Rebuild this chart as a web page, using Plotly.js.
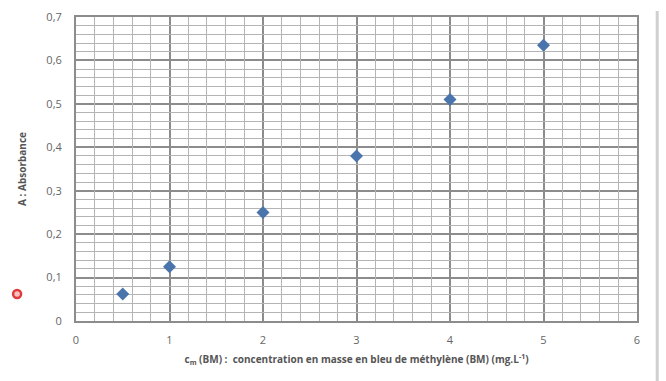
<!DOCTYPE html>
<html>
<head>
<meta charset="utf-8">
<script src="https://cdn.plot.ly/plotly-3.0.1.min.js"></script>
<style>html,body{margin:0;padding:0;background:#fff}#chart{width:666px;height:381px}</style>
</head>
<body>
<div id="chart"></div>
<script>
var concentration = [0.5, 1, 2, 3, 4, 5];
var absorbance = [0.062, 0.125, 0.25, 0.38, 0.51, 0.635];
var xTicks = [0, 1, 2, 3, 4, 5, 6];
var yTicks = [0, 0.1, 0.2, 0.3, 0.4, 0.5, 0.6, 0.7];
var yTickLabels = ['0', '0,1', '0,2', '0,3', '0,4', '0,5', '0,6', '0,7'];

// minor grid positions (excluding major ones)
var xMinor = [], yMinor = [];
for (var i = 1; i < 30; i++) { if (i % 5 !== 0) xMinor.push(i / 5); }
for (var j = 1; j < 35; j++) { if (j % 5 !== 0) yMinor.push(j / 50); }

var trace = {
  x: concentration,
  y: absorbance,
  xaxis: 'x', yaxis: 'y',
  mode: 'markers',
  type: 'scatter',
  marker: {symbol: 'diamond', size: 10, color: '#4a74ac'},
  hoverinfo: 'none',
  showlegend: false
};
var gridHolder = {
  x: [], y: [], xaxis: 'x2', yaxis: 'y2', type: 'scatter', mode: 'markers',
  hoverinfo: 'none', showlegend: false
};

var layout = {
  width: 666, height: 381,
  margin: {l: 76, r: 29, t: 17, b: 60},
  paper_bgcolor: '#ffffff',
  plot_bgcolor: '#ffffff',
  separators: ', ',
  font: {family: 'Open Sans, Arial, sans-serif', color: '#595959', size: 11},
  xaxis: {
    range: [0, 6],
    tickvals: xTicks,
    ticktext: xTicks.map(String),
    showgrid: true, gridcolor: '#8c8c8c', gridwidth: 2,
    showline: true, linecolor: '#8c8c8c', linewidth: 2, mirror: true,
    zeroline: false, ticks: '', ticklabelstandoff: 8,
    tickfont: {size: 11, color: '#666666'},
    title: {text: '<b>c<sub>m</sub> (BM) :  concentration en masse en bleu de méthylène (BM) (mg.L<sup>-1</sup>)</b>',
            font: {size: 10, color: '#555555'}, standoff: 10}
  },
  yaxis: {
    range: [0, 0.7],
    tickvals: yTicks,
    ticktext: yTickLabels,
    showgrid: true, gridcolor: '#8c8c8c', gridwidth: 2,
    showline: true, linecolor: '#8c8c8c', linewidth: 2, mirror: true,
    zeroline: false, ticks: '', ticklabelstandoff: 10,
    tickfont: {size: 11, color: '#666666'},
    title: {text: '<b>A : Absorbance</b>', font: {size: 10, color: '#555555'}, standoff: 18}
  },
  xaxis2: {
    overlaying: 'x', anchor: 'y2', range: [0, 6],
    tickvals: xMinor, showticklabels: false, ticks: '',
    showgrid: true, gridcolor: '#b4b4b4', gridwidth: 1,
    zeroline: false, showline: false
  },
  yaxis2: {
    overlaying: 'y', anchor: 'x2', range: [0, 0.7],
    tickvals: yMinor, showticklabels: false, ticks: '',
    showgrid: true, gridcolor: '#b4b4b4', gridwidth: 1,
    zeroline: false, showline: false
  },
  shapes: [
    {type: 'line', xref: 'paper', yref: 'paper', x0: 1.036, x1: 1.036, y0: -0.2, y1: 1.02,
     line: {color: '#d0d0d0', width: 3}},
    {type: 'circle', xref: 'paper', yref: 'paper', xsizemode: 'pixel', ysizemode: 'pixel',
     xanchor: -0.105, yanchor: 0.0888, x0: -4, x1: 4, y0: -4, y1: 4,
     fillcolor: 'rgba(230,80,80,0.35)', line: {color: '#e03a3a', width: 2.5}}
  ]
};

Plotly.newPlot('chart', [trace, gridHolder], layout, {staticPlot: true, displayModeBar: false});
</script>
</body>
</html>
